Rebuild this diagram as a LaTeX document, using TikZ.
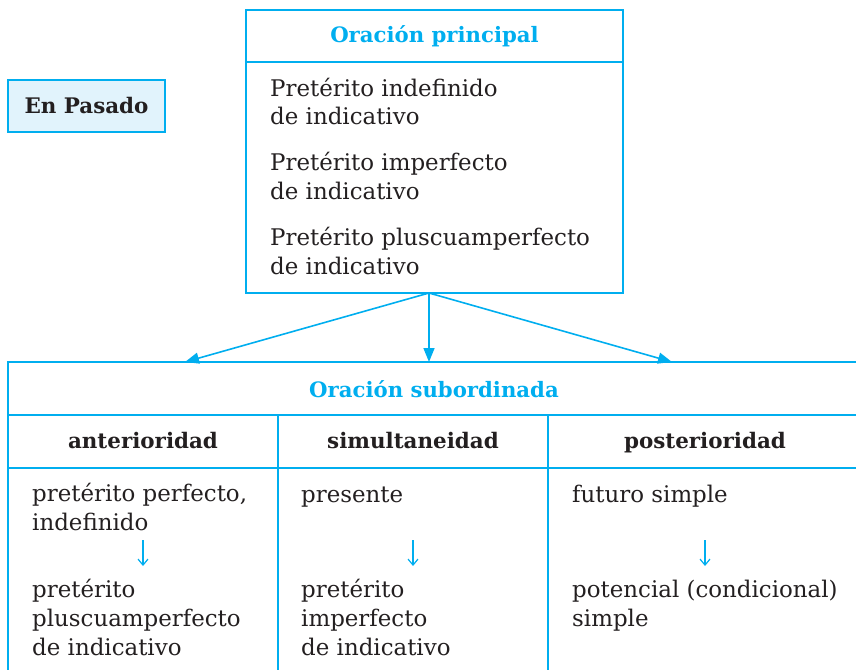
\documentclass[tikz,border=0pt]{standalone}
\usepackage{fontspec}
\setmainfont{DejaVu Serif}
\usepackage{tikz}
\usetikzlibrary{positioning,arrows.meta}
\definecolor{cian}{HTML}{00AEEF}
\definecolor{celeste}{HTML}{E1F3FC}
\definecolor{tinta}{HTML}{231F20}

\begin{document}
\begin{tikzpicture}[x=1bp,y=-1bp,
  caja/.style={draw=cian,line width=2.5bp,inner sep=0pt},
  linea/.style={draw=cian,line width=2.5bp},
  titulo/.style={font=\fontsize{21.3}{28}\selectfont\bfseries,text=cian},
  cabecera/.style={font=\fontsize{21.5}{28}\selectfont\bfseries,text=tinta},
  texto/.style={font=\fontsize{23}{29}\selectfont,text=tinta,align=left,anchor=base west,inner sep=0pt},
  flecha/.style={draw=cian,line width=1.6bp,-{Triangle[length=14bp,width=11bp]}},
  paso/.style={draw=cian,line width=1.2bp,-{Straight Barb[length=6bp,width=10bp]}}]
\useasboundingbox (0,0) rectangle (856,670);

% caja de la izquierda
\node[caja,fill=celeste,line width=1.5bp,minimum width=157bp,minimum height=52bp,cabecera] (pasado) at (86.5,106) {En Pasado};

% oracion principal
\node[caja,minimum width=377bp,minimum height=283bp] (principal) at (434.5,151.5) {};
\draw[caja] (principal.west |- 0,62) -- (principal.east |- 0,62);
\node[titulo] (tprincipal) at (434.5,36) {Oración principal};
\node[texto] (indefinido) at (270,125) {Pretérito indefinido\\de indicativo};
\node[texto] (imperfecto) at (270,199) {Pretérito imperfecto\\de indicativo};
\node[texto] (pluscuam) at (270,274) {Pretérito pluscuamperfecto\\de indicativo};

% oracion subordinada
\draw[linea] (856,362) -- (8,362) -- (8,670);
\draw[linea] (8,415) -- (856,415);
\draw[linea] (8,468) -- (856,468);
\draw[linea] (278,415) -- (278,670);
\draw[linea] (548,415) -- (548,670);
\node[titulo] (tsubordinada) at (434,389) {Oración subordinada};
\node[cabecera,anchor=base] (anterior) at (143,448) {anterioridad};
\node[cabecera,anchor=base] (simultaneo) at (413,448) {simultaneidad};
\node[cabecera,anchor=base] (posterior) at (705,448) {posterioridad};

\coordinate (origen) at (429,293);
\coordinate (llegadaA) at (185,362);
\coordinate (llegadaB) at (429,362);
\coordinate (llegadaC) at (672,362);
\draw[flecha] (origen) -- (llegadaA);
\draw[flecha] (origen) -- (llegadaB);
\draw[flecha] (origen) -- (llegadaC);

% columnas
\node[texto] (perfecto) at (32,530) {pretérito perfecto,\\indefinido};
\node[texto] (pluscuamsub) at (32,655) {pretérito\\pluscuamperfecto\\de indicativo};
\node[texto] (presente) at (301,502) {presente};
\node[texto] (imperfsub) at (301,655) {pretérito\\imperfecto\\de indicativo};
\node[texto] (futuro) at (572,502) {futuro simple};
\node[texto] (potencial) at (572,626) {potencial (condicional)\\simple};

\draw[paso] (143,540) -- (143,566);
\draw[paso] (413,540) -- (413,566);
\draw[paso] (705,540) -- (705,566);
\end{tikzpicture}
\end{document}
